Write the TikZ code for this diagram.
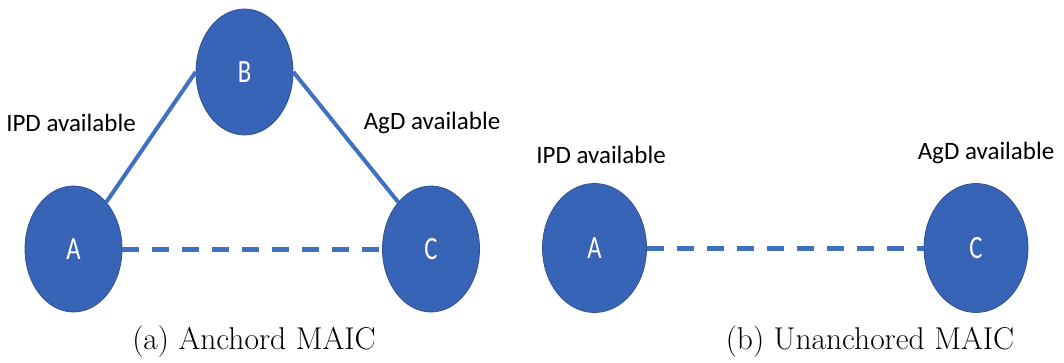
\documentclass[tikz,border=0pt]{standalone}
\usepackage{fontspec}
\newfontfamily\calibri{Carlito}
\usetikzlibrary{shapes.geometric}
\definecolor{nodefill}{HTML}{3764B6}
\definecolor{nodeedge}{HTML}{2F528F}
\definecolor{linkblue}{HTML}{4070C0}
% letters inside the ellipses are set narrow and tall
\newcommand\tallletter[1]{\scalebox{0.85}[1.12]{#1}}
\tikzset{
  trial/.style={ellipse, fill=nodefill, draw=nodeedge, line width=0.8pt,
    minimum width=98pt, minimum height=126pt, inner sep=0pt,
    text=white, font=\calibri\fontsize{29}{30}\selectfont},
  avail/.style={font=\calibri\fontsize{25}{27}\selectfont, inner sep=0pt},
  caption/.style={font=\fontsize{31.5}{34}\selectfont, inner sep=0pt},
  direct/.style={draw=linkblue, line width=4pt},
  indirect/.style={draw=linkblue, line width=5pt, dash pattern=on 17pt off 13pt}
}
\begin{document}
\begin{tikzpicture}[x=1pt, y=-1pt]
  \useasboundingbox (0,0) rectangle (1064,363);

  % (a) anchored comparison
  \node[trial, minimum width=97pt] (a1) at (73.5,249) {\tallletter{A}};
  \node[trial, minimum width=97pt] (b1) at (244.5,72) {\tallletter{B}};
  \node[trial, minimum width=97pt] (c1) at (431,249) {\tallletter{C}};
  \draw[direct] (a1.55) -- (b1.west);
  \draw[direct] (b1.east) -- (c1.125);
  \draw[indirect] (a1.east) -- (c1.west);
  \node[avail] (ipd1) at (71,123) {IPD available};
  \node[avail] (agd1) at (432,123) {AgD available};
  \node[caption] (cap1) at (254,342) {(a) Anchord MAIC};

  % (b) unanchored comparison
  \node[trial, minimum width=104pt, minimum height=129pt] (a2) at (594.5,248) {\tallletter{A}};
  \node[trial, minimum width=104pt, minimum height=129pt] (c2) at (976,248) {\tallletter{C}};
  \draw[indirect] (a2.east) -- (c2.west);
  \node[avail] (ipd2) at (601,155) {IPD available};
  \node[avail] (agd2) at (986,153) {AgD available};
  \node[caption] (cap2) at (870,342) {(b) Unanchored MAIC};
\end{tikzpicture}
\end{document}
